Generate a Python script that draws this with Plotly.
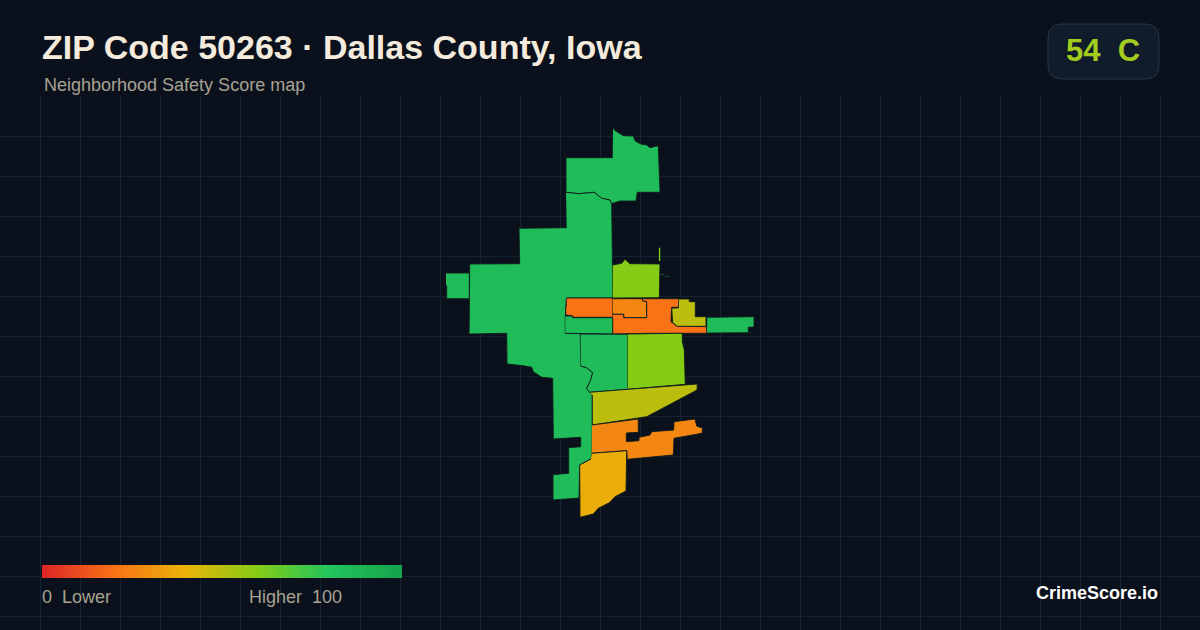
import plotly.graph_objects as go
from plotly.colors import sample_colorscale

# Page constants
width = 1200
height = 630
header_h = 96
bg_color = "#0a111c"
grid_color = "#15222f"
edge_color = "#0e1d1c"
muted_text = "#a8a292"

score_scale = [[0.0, "#dc2626"], [0.2, "#f97316"], [0.4, "#eab308"],
               [0.6, "#84cc16"], [0.8, "#22c55e"], [1.0, "#16a34a"]]

# Neighborhood outlines
north_x = [613, 614.3, 623.3, 633.3, 635.3, 641.3, 646.7, 650, 658.3, 659.3, 660, 637.3, 636, 620, 611.7, 610, 601.7, 594.3, 579, 566, 566, 612.7]
north_y = [127, 130, 135.7, 136, 141, 144.3, 145, 147.7, 145.7, 167.3, 192.3, 192.3, 201, 201, 203.7, 200, 198.3, 192.3, 193.7, 192.3, 157.7, 157.7]

west_x = [566, 579, 594.3, 601.7, 610, 611.7, 612.3, 612.7, 566.3, 565.3, 565.3, 580.3, 580.7, 586.7, 592.7, 590, 586.7, 592.3, 592.3, 592, 591, 579.7, 579, 553, 553, 568.7, 568.7, 580.7, 580.7, 553.3, 552.7, 541.7, 533.3, 531.7, 523.3, 507, 506.7, 469, 469.3, 469.7, 519.7, 519, 566.7]
west_y = [192.3, 193.7, 192.3, 198.3, 200, 203.7, 250, 298, 298, 317, 333.3, 333.7, 366, 367.7, 372.7, 381.7, 388.3, 395, 425, 453.3, 459, 465, 498, 500, 474.7, 473.3, 447.7, 446.7, 437.3, 439, 378.3, 377.3, 371.7, 367.3, 365.7, 364, 333.3, 334, 318.3, 264, 263.7, 228.3, 227.7]

west_block_x = [446, 469.3, 469.3, 446.7, 446.7, 446]
west_block_y = [273, 273, 298.7, 298.7, 285.7, 285.7]

lime_north_x = [612.7, 621.7, 625, 630, 660, 660, 659.3, 612.7]
lime_north_y = [265, 263.3, 259.3, 263.7, 264, 281.7, 297.7, 298]

lime_sliver_x = [658.9, 660.2, 660.2, 658.9]
lime_sliver_y = [247.7, 247.7, 261, 261]

speck_a_x = [661, 665, 665, 661]
speck_a_y = [274.2, 274.2, 274.9, 274.9]

speck_b_x = [665, 672, 672, 665]
speck_b_y = [276.5, 276.5, 277.1, 277.1]

orange_west_x = [566.7, 612.7, 612.7, 573.3, 572.3, 565.7, 565.7, 566.7]
orange_west_y = [298, 298, 317.3, 317.3, 315.7, 315, 306.7, 306]

orange_mid_x = [612.7, 642.3, 642.7, 646.7, 646.7, 623.7, 623.7, 612.7]
orange_mid_y = [298.7, 298.7, 301, 301.7, 317.7, 317.7, 314.3, 314.3]

orange_east_x = [612.7, 623.7, 623.7, 646.7, 646.7, 642.7, 642.3, 678.7, 678.7, 671.7, 671, 676.7, 706.7, 706.7, 648.3, 612.7]
orange_east_y = [314.3, 314.3, 317.7, 317.7, 301.7, 301, 298.7, 298.7, 307.3, 307.3, 321.7, 326, 326.7, 333.3, 333.3, 334]

olive_north_x = [679, 689.3, 689.3, 695.3, 695.3, 706, 706, 677.3, 672.7, 671.7, 679]
olive_north_y = [299, 299, 301.7, 301.7, 316.7, 316.7, 326.3, 326.3, 322.7, 308.3, 307.7]

east_x = [707.3, 754, 754, 748.3, 748.3, 751.7, 707]
east_y = [317.3, 316.7, 327, 327.3, 331.7, 332.7, 333]

west_strip_x = [565.3, 572.3, 572.7, 612.7, 612.7, 565.3]
west_strip_y = [316, 316, 317.7, 317.7, 334, 333.3]

center_x = [580.7, 627.7, 627.7, 589.3, 586.7, 590, 592.7, 586.7, 580.7]
center_y = [334, 334.3, 389.3, 392.3, 388.3, 381.7, 372.7, 367.7, 366]

lime_south_x = [627.7, 682.3, 682.3, 684.3, 685.3, 627.7]
lime_south_y = [334, 333.3, 341.7, 350, 384.3, 389.3]

wedge_x = [589.3, 627.7, 697.3, 697, 646.7, 592.3, 592.3]
wedge_y = [392.3, 389.3, 384, 390, 416.7, 425, 395]

south_x = [592, 638.3, 638.3, 626.3, 626.3, 639, 639, 650, 651.7, 673.7, 674, 695, 696.7, 702.7, 702, 674, 673.3, 627.3, 626.7, 591.7]
south_y = [425, 419, 432.3, 433, 441.7, 440.7, 437.3, 435, 431.7, 430, 421.7, 419, 426, 428.3, 433.3, 438.3, 455, 459.3, 450.7, 453.3]

amber_x = [591.7, 626.7, 626, 615, 609.3, 598.3, 593.3, 580, 579.7, 591]
amber_y = [453.3, 450.7, 491, 496.7, 502.7, 508.3, 514, 517.3, 465, 459]

# name, x, y, score, outline width
tracts = [
    ("north", north_x, north_y, 85, 0.9),
    ("west", west_x, west_y, 85, 0.9),
    ("west block", west_block_x, west_block_y, 85, 0.9),
    ("lime north", lime_north_x, lime_north_y, 60, 0.9),
    ("lime sliver", lime_sliver_x, lime_sliver_y, 60, 0),
    ("speck a", speck_a_x, speck_a_y, 85, 0),
    ("speck b", speck_b_x, speck_b_y, 85, 0),
    ("orange west", orange_west_x, orange_west_y, 20, 0.9),
    ("orange mid", orange_mid_x, orange_mid_y, 26, 0.9),
    ("orange east", orange_east_x, orange_east_y, 20, 0.9),
    ("olive north", olive_north_x, olive_north_y, 49, 0.9),
    ("east", east_x, east_y, 85, 0.9),
    ("west strip", west_strip_x, west_strip_y, 85, 0.9),
    ("center", center_x, center_y, 85, 0.9),
    ("lime south", lime_south_x, lime_south_y, 60, 0.9),
    ("wedge", wedge_x, wedge_y, 49, 0.9),
    ("south", south_x, south_y, 26, 0.9),
    ("amber", amber_x, amber_y, 38, 0.9),
]

legend_scores = list(range(0, 101))


def paper_y(py):
    # picture pixels to paper units, the plot area starts under the header
    return (height - py) / (height - header_h)


fig = go.Figure()

for name, xs, ys, score, edge_w in tracts:
    color = sample_colorscale(score_scale, score / 100)[0]
    fig.add_trace(go.Scatter(x=xs, y=ys, name=name, mode="lines", fill="toself",
                             fillcolor=color, line=dict(color=edge_color, width=edge_w),
                             hoverinfo="name", showlegend=False))

legend_dx = 360 / len(legend_scores)
fig.add_trace(go.Heatmap(z=[legend_scores], x0=42 + legend_dx / 2, dx=legend_dx, y0=571.5, dy=13,
                         zmin=0, zmax=100, colorscale=score_scale,
                         showscale=False, hoverinfo="skip"))

fig.update_xaxes(range=[0, width], tick0=0, dtick=40, gridcolor=grid_color, gridwidth=1,
                 showticklabels=False, zeroline=False, showline=False, ticks="")
fig.update_yaxes(range=[height, header_h], tick0=header_h, dtick=40, gridcolor=grid_color, gridwidth=1,
                 showticklabels=False, zeroline=False, showline=False, ticks="")

# score badge
bx0, bx1, r = 1048, 1159, 14
by0, by1 = paper_y(24), paper_y(79)
ry = r / (height - header_h)
badge_path = (f"M {bx0 + r} {by0} L {bx1 - r} {by0} Q {bx1} {by0} {bx1} {by0 - ry} "
              f"L {bx1} {by1 + ry} Q {bx1} {by1} {bx1 - r} {by1} "
              f"L {bx0 + r} {by1} Q {bx0} {by1} {bx0} {by1 + ry} "
              f"L {bx0} {by0 - ry} Q {bx0} {by0} {bx0 + r} {by0} Z")
fig.add_shape(type="path", path=badge_path, xref="x", yref="paper",
              fillcolor="#111c2b", line=dict(color="#263341", width=1))


def label(text, x, py, size, color, bold=False, anchor="left"):
    fig.add_annotation(text=f"<b>{text}</b>" if bold else text, x=x, y=paper_y(py),
                       xref="x", yref="paper", showarrow=False, xanchor=anchor, yanchor="middle",
                       borderpad=0, font=dict(family="Liberation Sans", size=size, color=color))


label("ZIP Code 50263 · Dallas County, Iowa", 41, 47, 34, "#f5ebdd", bold=True)
label("Neighborhood Safety Score map", 43, 85, 18, muted_text)
label("54\u00a0\u00a0C", 1103, 51, 31, "#a3cc1e", bold=True, anchor="center")
label("0\u00a0\u00a0Lower", 41, 597, 18, muted_text)
label("Higher\u00a0\u00a0100", 343, 597, 18, muted_text, anchor="right")
label("CrimeScore.io", 1158.5, 593, 18, "#ffffff", bold=True, anchor="right")

fig.update_layout(width=width, height=height, margin=dict(l=0, r=0, t=header_h, b=0),
                  paper_bgcolor=bg_color, plot_bgcolor=bg_color, showlegend=False)

fig.write_html("out.html", post_script="document.body.style.margin='0';",
               config=dict(displayModeBar=False))
